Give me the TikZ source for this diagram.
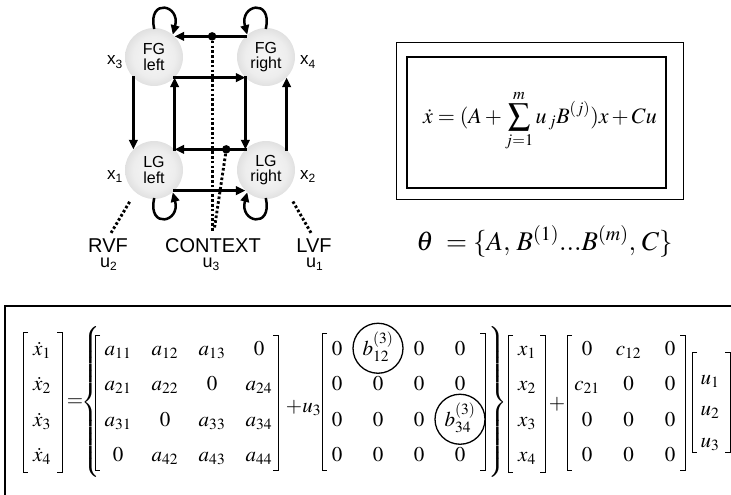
\documentclass[tikz,border=0pt]{standalone}
\usepackage[no-math]{fontspec}
\usepackage{mathptmx}
\setmainfont{Liberation Serif}
\newfontfamily\diagfont{Liberation Sans}
\usetikzlibrary{arrows.meta,calc,matrix}

% soft grey disc for the four regions
\pgfdeclareradialshading{regionshade}{\pgfpoint{0bp}{0bp}}{%
  color(0bp)=(black!3); color(18bp)=(black!7); color(38bp)=(black!21); color(50bp)=(black!36)}

% square brackets around a column block: left x, right x, top y, bottom y
\newcommand\sqbrackets[4]{%
  \draw[bracket] (#1+5,#3) -| (#1,#4) -- (#1+5,#4);
  \draw[bracket] (#2-5,#3) -| (#2,#4) -- (#2-5,#4);}

% lowered index for the sans labels
\newcommand\lowsub[1]{\raisebox{-3.5pt}{\fontsize{12}{12}\selectfont #1}}

\begin{document}
\begin{tikzpicture}[x=1pt,y=-1pt,
  region/.style={circle, minimum size=58pt, inner sep=0pt, shading=regionshade,
    align=center, font=\diagfont\fontsize{16}{15.5}\selectfont},
  link/.style={line width=2.5pt, line cap=rect, -{Triangle[length=9.5pt,width=8.5pt]}},
  modline/.style={line width=2.9pt, dash pattern=on 2.6pt off 2.2pt},
  hub/.style={circle, fill=black, inner sep=0pt, minimum size=8.5pt},
  statelab/.style={font=\diagfont\fontsize{17}{17}\selectfont, inner sep=0pt, anchor=base west},
  inlab/.style={font=\diagfont\fontsize{20}{20}\selectfont, inner sep=0pt, anchor=base},
  ulab/.style={font=\diagfont\fontsize{18}{18}\selectfont, inner sep=0pt, anchor=base},
  eqn/.style={font=\fontsize{21}{24}\selectfont, inner sep=0pt},
  mat/.style={matrix of math nodes, inner sep=0pt, outer sep=0pt, column sep=0pt, row sep=0pt,
    nodes={inner sep=0pt, text height=24.5pt, text depth=11pt, font=\fontsize{21}{24}\selectfont}},
  bracket/.style={line width=0.9pt},
  ring/.style={circle, draw, line width=1.3pt, minimum size=50pt, inner sep=0pt},
]
\useasboundingbox (0,0) rectangle (731,495);

% ---- network of the four regions ----
\node[region] (FGL) at (154,57) {FG\\left};
\node[region] (FGR) at (266,57) {FG\\right};
\node[region] (LGL) at (154,170) {LG\\left};
\node[region] (LGR) at (266,170) {LG\\right};

\draw[link] (FGR.north west) -- (FGL.north east);
\draw[link] (FGL.south east) -- (FGR.south west);
\draw[link] (FGR.south west) -- (LGR.north west);
\draw[link] (LGR.north west) -- (LGL.north east);
\draw[link] (LGL.north east) -- (FGL.south east);
\draw[link] (FGL.south west) -- (LGL.north west);
\draw[link] (LGR.north east) -- (FGR.south east);
\draw[link] (LGL.south east) -- (LGR.south west);

% self connections
\draw[link] (FGL.90) .. controls +(-6,-30) and +(8,-30) .. (FGL.50);
\draw[link] (FGR.90) .. controls +(6,-30) and +(-8,-30) .. (FGR.130);
\draw[link] (LGL.-90) .. controls +(-6,30) and +(8,30) .. (LGL.-50);
\draw[link] (LGR.-90) .. controls +(6,30) and +(-8,30) .. (LGR.-130);

% state labels
\node[statelab] (x3) at (107,65) {x\lowsub{3}};
\node[statelab] (x4) at (300,65) {x\lowsub{4}};
\node[statelab] (x1) at (107,179) {x\lowsub{1}};
\node[statelab] (x2) at (300,179) {x\lowsub{2}};

% inputs
\node[inlab] (RVF) at (108,252) {RVF};
\node[inlab] (CTX) at (213,252) {CONTEXT};
\node[inlab] (LVF) at (314,252) {LVF};
\node[ulab] (u2) at (108.5,267) {u\lowsub{2}};
\node[ulab] (u3) at (211,267) {u\lowsub{3}};
\node[ulab] (u1) at (314.5,267) {u\lowsub{1}};

\coordinate (ctxA) at ($(FGR.north west)!0.47!(FGL.north east)$);
\coordinate (ctxB) at ($(LGR.north west)!0.27!(LGL.north east)$);
\node[hub] (hubA) at (ctxA) {};
\node[hub] (hubB) at (ctxB) {};

\draw[modline, shorten >=7pt] (hubA) -- (hubA |- CTX.north);
\draw[modline, shorten >=9pt] (hubB) -- (CTX.north);
\draw[modline, shorten <=6pt, shorten >=10pt] (RVF.north) -- (LGL.230);
\draw[modline, shorten <=6pt, shorten >=12pt] (LVF.north) -- (LGR.-45);

% ---- model equation ----
\node[draw, line width=0.8pt, minimum width=287pt, minimum height=157pt, inner sep=0pt] (outerframe) at (539.5,120.5) {};
\node[draw, line width=1.4pt, minimum width=259pt, minimum height=131pt, inner sep=0pt] (innerframe) at (536.5,122.5) {};
\node[eqn, font=\fontsize{22}{26}\selectfont, anchor=base] (model) at (540,123) {$\displaystyle \dot{x} = (A + \sum_{j=1}^{m} u_{\,j} B^{(j)})x + Cu$};
\node[font=\fontsize{27}{31}\selectfont, inner sep=0pt, anchor=base] (params) at (544.5,250) {$\theta\ = \{A,\, B^{(1)} ... B^{(m)},\, C\}$};

% ---- expanded model ----
\draw[line width=1.6pt] (731,306) -- (5,306) -- (5,495);

\matrix (xd) [mat, nodes={minimum width=30pt}] at (42,401.5) {
  \dot{x}_1\\ \dot{x}_2\\ \dot{x}_3\\ \dot{x}_4\\};
\node[eqn] (eq) at (75,403) {$=$};
\node[eqn] (lbrace) at (91,402) {$\left\{\vrule height 70pt depth 70pt width 0pt\right.$};
\matrix (A) [mat, nodes={minimum width=47pt}] at (188.5,401.5) {
  a_{11} & a_{12} & a_{13} & 0\\
  a_{21} & a_{22} & 0 & a_{24}\\
  a_{31} & 0 & a_{33} & a_{34}\\
  0 & a_{42} & a_{43} & a_{44}\\};
\node[eqn, anchor=base] (plusu) at (303.5,412) {$+u_3$};
\matrix (B) [mat, nodes={minimum width=41pt}] at (398.5,401.5) {
  0 & b^{(3)}_{12} & 0 & 0\\
  0 & 0 & 0 & 0\\
  0 & 0 & 0 & b^{(3)}_{34}\\
  0 & 0 & 0 & 0\\};
\node[ring] (ringB12) at (B-1-2.center) {};
\node[ring] (ringB34) at (B-3-4.center) {};
\node[eqn] (rbrace) at (497,402) {$\left.\vrule height 70pt depth 70pt width 0pt\right\}$};
\matrix (xv) [mat, nodes={minimum width=30pt}] at (527,401.5) {
  x_1\\ x_2\\ x_3\\ x_4\\};
\node[eqn] (plus) at (557,404) {$+$};
\matrix (C) [mat, nodes={minimum width=41.5pt}] at (628.5,401.5) {
  0 & c_{12} & 0\\
  c_{21} & 0 & 0\\
  0 & 0 & 0\\
  0 & 0 & 0\\};
\matrix (uv) [mat, nodes={minimum width=30pt, text height=21pt, text depth=10.5pt}] at (710,410.25) {
  u_1\\ u_2\\ u_3\\};

\sqbrackets{23}{62}{332}{472}
\sqbrackets{95}{278}{335}{470}
\sqbrackets{322}{485}{333}{470}
\sqbrackets{508}{545}{335}{472}
\sqbrackets{567}{685}{335}{470}
\sqbrackets{692}{730}{352}{452}
\end{tikzpicture}
\end{document}
